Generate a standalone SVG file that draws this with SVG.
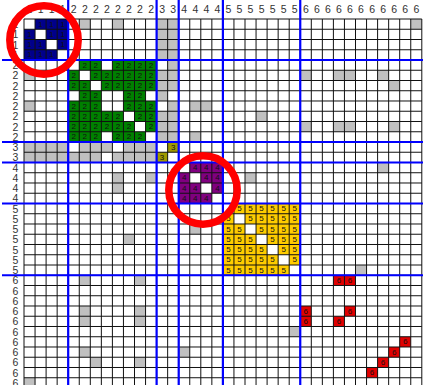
<svg xmlns="http://www.w3.org/2000/svg" width="423" height="385" viewBox="0 0 423 385">
<style>
.gray{fill:#c0c0c0}.b1{fill:#00008b}.b2{fill:#008000}.b3{fill:#a09a00}.b4{fill:#800080}.b5{fill:#ffcc00}.b6{fill:#e00000}
.grid{fill:none;stroke:#111;stroke-width:1}
.sep{stroke:#0000ff;stroke-width:2.2}
.lab{font-family:"Liberation Sans",Arial,sans-serif;font-size:10.5px;fill:#333;text-anchor:middle;dominant-baseline:central}
.t{font-family:"Liberation Sans",Arial,sans-serif;font-size:8px;fill:#111;text-anchor:middle;dominant-baseline:central}
.ring{fill:none;stroke:#ff0000;stroke-width:7.5}
</style>
<rect width="423" height="385" fill="#fff"/>
<g id="cells" transform="translate(24,19) scale(11.05,10.25)">
<path class="gray" d="M5 0h1v1h-1z M8 0h1v1h-1z M12 0h2v4h-2z M35 0h1v1h-1z M13 4h1v1h-1z M0 5h1v1h-1z M12 5h2v2h-2z M12 7h1v1h-1z M13 8h1v1h-1z M12 9h2v3h-2z M25 5h1v1h-1z M28 5h2v1h-2z M32 5h1v1h-1z M33 6h1v1h-1z M0 8h1v1h-1z M15 8h2v1h-2z M21 9h1v1h-1z M25 10h1v1h-1z M28 10h2v1h-2z M33 10h1v1h-1z M15 11h1v1h-1z M0 12h4v1h-4z M5 12h3v1h-3z M9 12h3v1h-3z M0 13h7v1h-7z M8 13h4v1h-4z M32 14h1v1h-1z M8 15h1v2h-1z M11 15h1v1h-1z M20 15h1v1h-1z M15 20h1v1h-1z M9 21h1v1h-1z M30 24h1v1h-1z M5 25h1v1h-1z M10 25h1v1h-1z M5 28h1v2h-1z M10 28h1v2h-1z M24 30h1v1h-1z M5 32h1v1h-1z M14 32h1v1h-1z M6 33h1v1h-1z M10 33h1v1h-1z M0 35h1v1h-1z"/>
<path class="b1" d="M1 0h3v1h-3z M0 1h1v1h-1z M2 1h2v1h-2z M0 2h2v1h-2z M3 2h1v1h-1z M0 3h3v1h-3z"/>
<path class="b2" d="M5 4h2v1h-2z M8 4h4v1h-4z M4 5h1v1h-1z M6 5h6v1h-6z M4 6h2v1h-2z M7 6h5v1h-5z M5 7h2v1h-2z M9 7h2v1h-2z M4 8h3v1h-3z M9 8h3v1h-3z M4 9h5v1h-5z M10 9h2v1h-2z M4 10h6v1h-6z M11 10h1v1h-1z M4 11h3v1h-3z M8 11h3v1h-3z"/>
<path class="b3" d="M13 12h1v1h-1z M12 13h1v1h-1z"/>
<path class="b4" d="M15 14h3v1h-3z M14 15h1v1h-1z M16 15h2v1h-2z M14 16h2v1h-2z M17 16h1v1h-1z M14 17h3v1h-3z"/>
<path class="b5" d="M19 18h6v1h-6z M18 19h1v1h-1z M20 19h5v1h-5z M18 20h2v1h-2z M21 20h4v1h-4z M18 21h3v1h-3z M22 21h3v1h-3z M18 22h4v1h-4z M23 22h2v1h-2z M18 23h5v1h-5z M24 23h1v1h-1z M18 24h6v1h-6z"/>
<path class="b6" d="M28 25h2v1h-2z M25 28h1v2h-1z M29 28h1v1h-1z M28 29h1v1h-1z M34 31h1v1h-1z M33 32h1v1h-1z M32 33h1v1h-1z M31 34h1v1h-1z"/>
<path class="grid" vector-effect="non-scaling-stroke" d="M0 0V37M1 0V37M2 0V37M3 0V37M4 0V37M5 0V37M6 0V37M7 0V37M8 0V37M9 0V37M10 0V37M11 0V37M12 0V37M13 0V37M14 0V37M15 0V37M16 0V37M17 0V37M18 0V37M19 0V37M20 0V37M21 0V37M22 0V37M23 0V37M24 0V37M25 0V37M26 0V37M27 0V37M28 0V37M29 0V37M30 0V37M31 0V37M32 0V37M33 0V37M34 0V37M35 0V37M36 0V37 M0 0H36M0 1H36M0 2H36M0 3H36M0 4H36M0 5H36M0 6H36M0 7H36M0 8H36M0 9H36M0 10H36M0 11H36M0 12H36M0 13H36M0 14H36M0 15H36M0 16H36M0 17H36M0 18H36M0 19H36M0 20H36M0 21H36M0 22H36M0 23H36M0 24H36M0 25H36M0 26H36M0 27H36M0 28H36M0 29H36M0 30H36M0 31H36M0 32H36M0 33H36M0 34H36M0 35H36M0 36H36"/>
</g>
<g id="separators">
<path class="sep" d="M68.2 0V385M156.6 0V385M178.7 0V385M222.9 0V385M300.25 0V385 M2 60H423M2 142H423M2 162.5H423M2 203.5H423M2 275.25H423"/>
</g>
<g id="cell-values">
<text class="t" x="40.6 51.6 62.7" y="24.1">111</text>
<text class="t" x="29.5 51.6 62.7" y="34.4">111</text>
<text class="t" x="29.5 40.6 62.7" y="44.6">111</text>
<text class="t" x="29.5 40.6 51.6" y="54.9">111</text>
<text class="t" x="84.8 95.8 117.9 129.0 140.0 151.1" y="65.1">222222</text>
<text class="t" x="73.7 95.8 106.9 117.9 129.0 140.0 151.1" y="75.4">2222222</text>
<text class="t" x="73.7 84.8 106.9 117.9 129.0 140.0 151.1" y="85.6">2222222</text>
<text class="t" x="84.8 95.8 129.0 140.0" y="95.9">2222</text>
<text class="t" x="73.7 84.8 95.8 129.0 140.0 151.1" y="106.1">222222</text>
<text class="t" x="73.7 84.8 95.8 106.9 117.9 140.0 151.1" y="116.4">2222222</text>
<text class="t" x="73.7 84.8 95.8 106.9 117.9 129.0 151.1" y="126.6">2222222</text>
<text class="t" x="73.7 84.8 95.8 117.9 129.0 140.0" y="136.9">222222</text>
<text class="t" x="173.2" y="147.1">3</text>
<text class="t" x="162.1" y="157.4">3</text>
<text class="t" x="195.3 206.3 217.4" y="167.6">444</text>
<text class="t" x="184.2 206.3 217.4" y="177.9">444</text>
<text class="t" x="184.2 195.3 217.4" y="188.1">444</text>
<text class="t" x="184.2 195.3 206.3" y="198.4">444</text>
<text class="t" x="239.5 250.5 261.6 272.6 283.7 294.7" y="208.6">555555</text>
<text class="t" x="228.4 250.5 261.6 272.6 283.7 294.7" y="218.9">555555</text>
<text class="t" x="228.4 239.5 261.6 272.6 283.7 294.7" y="229.1">555555</text>
<text class="t" x="228.4 239.5 250.5 272.6 283.7 294.7" y="239.4">555555</text>
<text class="t" x="228.4 239.5 250.5 261.6 283.7 294.7" y="249.6">555555</text>
<text class="t" x="228.4 239.5 250.5 261.6 272.6 294.7" y="259.9">555555</text>
<text class="t" x="228.4 239.5 250.5 261.6 272.6 283.7" y="270.1">555555</text>
<text class="t" x="338.9 350.0" y="280.4">66</text>
<text class="t" x="305.8 350.0" y="311.1">66</text>
<text class="t" x="305.8 338.9" y="321.4">66</text>
<text class="t" x="405.2" y="341.9">6</text>
<text class="t" x="394.2" y="352.1">6</text>
<text class="t" x="383.1" y="362.4">6</text>
<text class="t" x="372.1" y="372.6">6</text>
</g>
<g id="column-labels">
<text class="lab" y="9" x="29.5 40.6 51.6 62.7 73.7 84.8 95.8 106.9 117.9 129.0 140.0 151.1 162.1 173.2 184.2 195.3 206.3 217.4 228.4 239.5 250.5 261.6 272.6 283.7 294.7 305.8 316.8 327.9 338.9 350.0 361.0 372.1 383.1 394.2 405.2 416.3">111122222222334444555555566666666666</text>
</g>
<g id="row-labels">
<text class="lab" x="15.5 15.5 15.5 15.5 15.5 15.5 15.5 15.5 15.5 15.5 15.5 15.5 15.5 15.5 15.5 15.5 15.5 15.5 15.5 15.5 15.5 15.5 15.5 15.5 15.5 15.5 15.5 15.5 15.5 15.5 15.5 15.5 15.5 15.5 15.5 15.5" y="24.1 34.4 44.6 54.9 65.1 75.4 85.6 95.9 106.1 116.4 126.6 136.9 147.1 157.4 167.6 177.9 188.1 198.4 208.6 218.9 229.1 239.4 249.6 259.9 270.1 280.4 290.6 300.9 311.1 321.4 331.6 341.9 352.1 362.4 372.6 382.9">111122222222334444555555566666666666</text>
</g>
<g id="highlights">
<circle class="ring" cx="44" cy="40" r="34.2"/>
<circle class="ring" cx="203" cy="190" r="34.2"/>
</g>
</svg>
